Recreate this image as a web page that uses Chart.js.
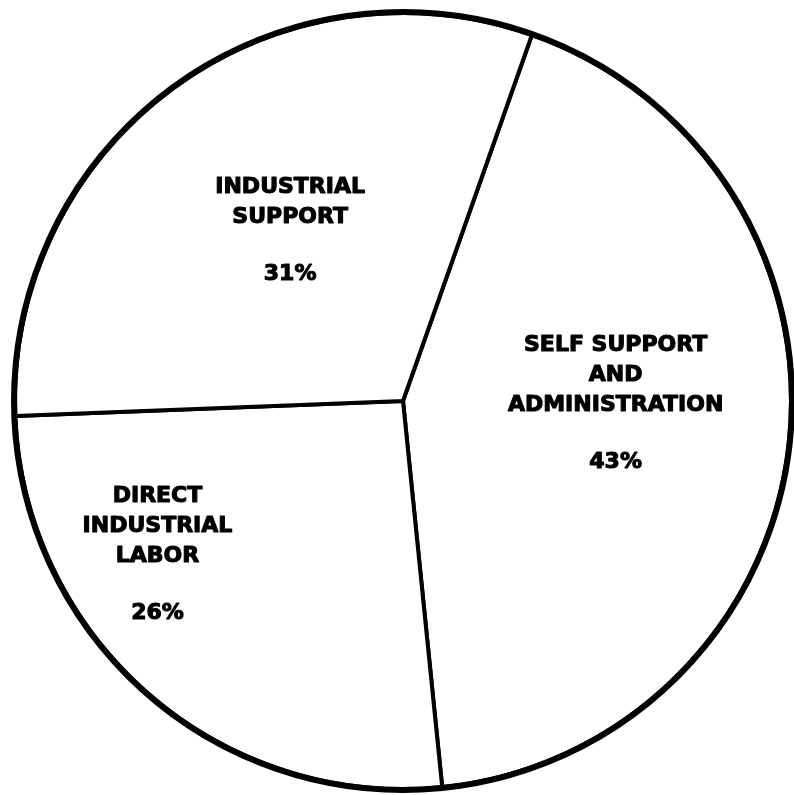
<!DOCTYPE html>
<html>
<head>
<meta charset="utf-8">
<script src="https://cdn.jsdelivr.net/npm/chart.js@4.4.0/dist/chart.umd.min.js"></script>
<style>
  html, body { margin: 0; padding: 0; background: #ffffff; }
  #wrap { width: 794px; height: 795px; position: relative; }
</style>
</head>
<body>
<div id="wrap"><canvas id="c" width="794" height="795"></canvas></div>
<script>
// Data (clockwise from the rotated start)
const categories = [
  ["SELF SUPPORT", "AND", "ADMINISTRATION"],
  ["DIRECT", "INDUSTRIAL", "LABOR"],
  ["INDUSTRIAL", "SUPPORT"]
];
const shares = [43, 26, 31];
const percentLabels = ["43%", "26%", "31%"];

// Label placement: fraction of radius and angular offset (degrees) from slice mid-angle
const labelRadiusFrac = [0.548, 0.747, 0.527];
const labelAngleOffset = [-6.0, 16.9, 2.9];

const labelPlugin = {
  id: 'sliceLabels',
  afterDatasetsDraw(chart) {
    const ctx = chart.ctx;
    const meta = chart.getDatasetMeta(0);
    // thick outer ring
    const a0 = meta.data[0];
    ctx.save();
    ctx.beginPath();
    ctx.arc(a0.x, a0.y, a0.outerRadius + 1, 0, Math.PI * 2);
    ctx.lineWidth = 6;
    ctx.strokeStyle = '#000';
    ctx.stroke();
    ctx.restore();

    ctx.save();
    ctx.fillStyle = '#000';
    ctx.strokeStyle = '#000';
    ctx.lineWidth = 1.1;
    ctx.lineJoin = 'round';
    ctx.font = 'bold 22px "DejaVu Sans"';
    ctx.textAlign = 'center';
    ctx.textBaseline = 'middle';
    const lineH = 30;
    const pctGap = 57;
    const draw = (t, x, y) => { ctx.fillText(t, x, y); ctx.strokeText(t, x, y); };
    meta.data.forEach((arc, i) => {
      const mid = (arc.startAngle + arc.endAngle) / 2 + labelAngleOffset[i] * Math.PI / 180;
      const r = arc.outerRadius * labelRadiusFrac[i];
      const cx = arc.x + Math.cos(mid) * r;
      const cy = arc.y + Math.sin(mid) * r;
      const lines = categories[i];
      const total = (lines.length - 1) * lineH + pctGap;
      let y = cy - total / 2;
      lines.forEach((t, k) => draw(t, cx, y + k * lineH));
      draw(percentLabels[i], cx, y + (lines.length - 1) * lineH + pctGap);
    });
    ctx.restore();
  }
};

new Chart(document.getElementById('c'), {
  type: 'pie',
  data: {
    labels: categories.map(l => l.join(' ')),
    datasets: [{
      data: shares,
      backgroundColor: '#ffffff',
      borderColor: '#000000',
      borderWidth: 4,
      hoverOffset: 0
    }]
  },
  options: {
    responsive: false,
    animation: false,
    rotation: 19.4,
    radius: 388,
    layout: { padding: { left: 12, right: 0, top: 7, bottom: 0 } },
    plugins: {
      legend: { display: false },
      tooltip: { enabled: false }
    }
  },
  plugins: [labelPlugin]
});
</script>
</body>
</html>
